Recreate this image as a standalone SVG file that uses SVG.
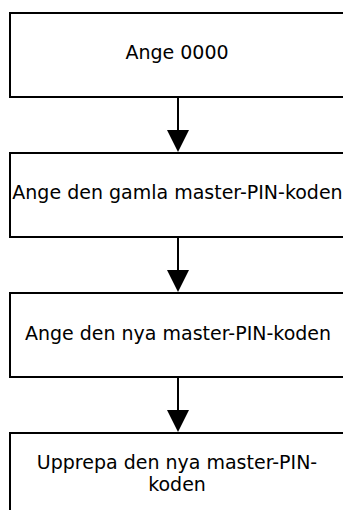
<svg xmlns="http://www.w3.org/2000/svg" width="343" height="510" viewBox="0 0 343 510">
<style>
.box{fill:#fff;stroke:#000;stroke-width:2}
.lbl{font-family:"DejaVu Sans",sans-serif;font-size:19px;fill:#000;text-anchor:middle}
.ln{stroke:#000;stroke-width:2;fill:none}
.ah{fill:#000}
</style>
<rect width="343" height="510" fill="#fff"/>
<g id="connectors">
<line class="ln" x1="178" y1="97" x2="178" y2="132"/>
<polygon class="ah" points="167,130 189,130 178,152"/>
<line class="ln" x1="178" y1="237" x2="178" y2="272"/>
<polygon class="ah" points="167,270 189,270 178,292"/>
<line class="ln" x1="178" y1="377" x2="178" y2="412"/>
<polygon class="ah" points="167,410 189,410 178,432"/>
</g>
<g id="n1">
<rect class="box" x="10" y="13" width="336" height="84"/>
<text class="lbl" x="177" y="59">Ange 0000</text>
</g>
<g id="n2">
<rect class="box" x="10" y="153" width="336" height="84"/>
<text class="lbl" x="177.5" y="199">Ange den gamla master-PIN-koden</text>
</g>
<g id="n3">
<rect class="box" x="10" y="293" width="336" height="84"/>
<text class="lbl" x="178" y="340">Ange den nya master-PIN-koden</text>
</g>
<g id="n4">
<rect class="box" x="10" y="433" width="336" height="84"/>
<text class="lbl" x="177" y="469">Upprepa den nya master-PIN-</text>
<text class="lbl" x="177" y="491">koden</text>
</g>
</svg>
